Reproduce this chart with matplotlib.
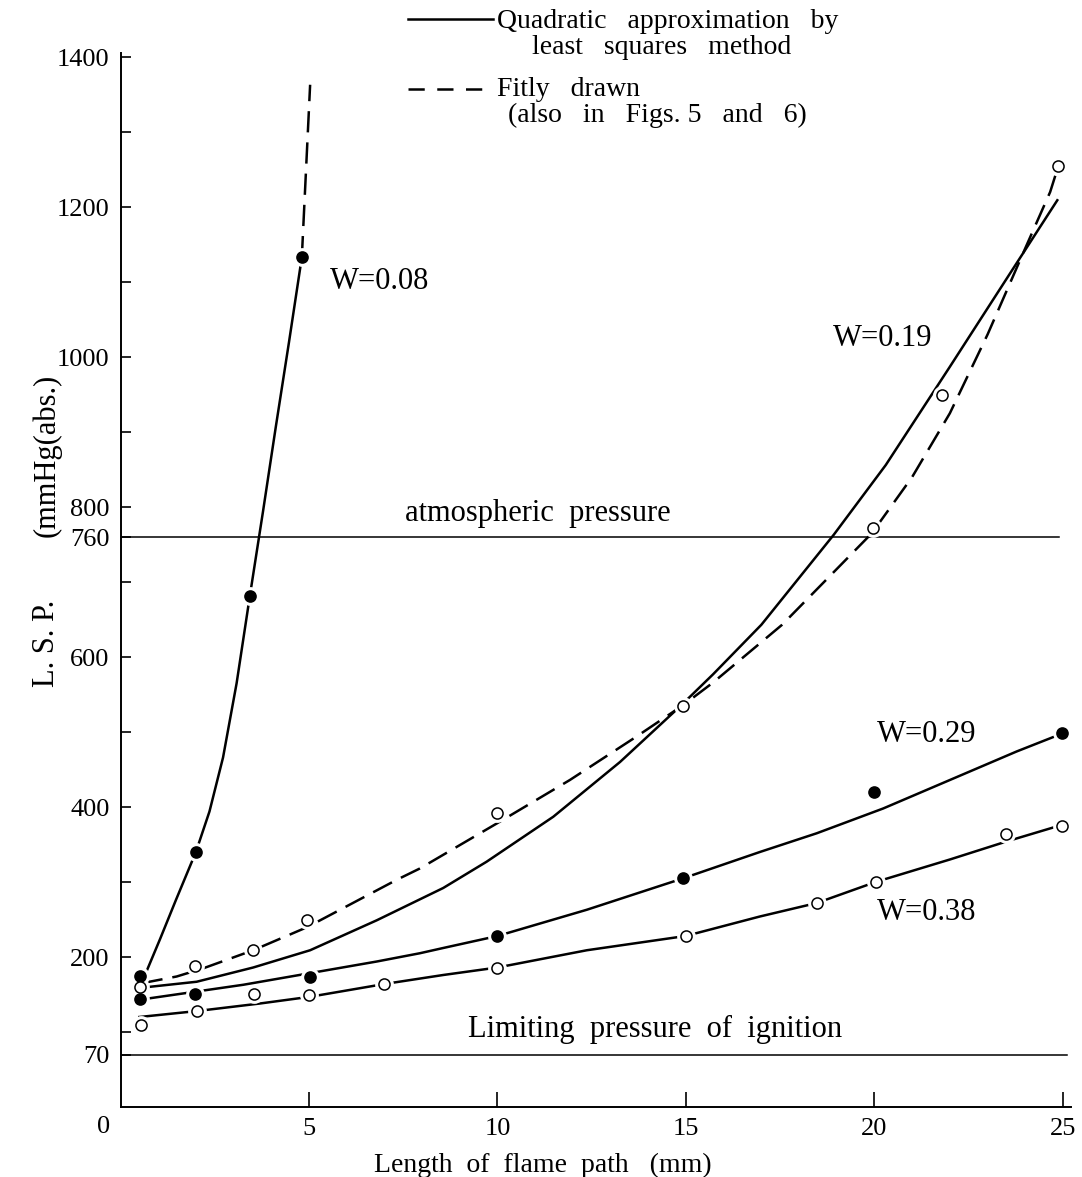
import numpy as np
import matplotlib.pyplot as plt
from matplotlib.lines import Line2D

# measured points, length of flame path (mm) vs L.S.P. (mmHg abs.)
x_w008 = [0.53, 1.99, 3.43, 4.82]
y_w008 = [175, 340, 682, 1134]
x_w019 = [0.53, 1.98, 3.52, 4.96, 10.0, 14.93, 19.95, 21.8, 24.88]
y_w019 = [160, 188, 210, 249, 392, 535, 772, 949, 1255]
x_w029 = [0.52, 1.98, 5.03, 10.0, 14.93, 20.0, 24.97]
y_w029 = [144, 151, 174, 228, 305, 420, 499]
x_w038 = [0.54, 2.04, 3.54, 4.99, 6.99, 10.0, 14.99, 18.47, 20.03, 23.5, 24.98]
y_w038 = [109, 128, 151, 149, 164, 186, 228, 272, 300, 364, 375]

# curves
# W=0.08, quadratic approx (solid) and fitly drawn top part (dashed)
cx_w008 = [0.65, 1.05, 1.47, 2.0, 2.36, 2.72, 3.08, 3.43, 3.78, 4.12, 4.47, 4.81]
cy_w008 = [176, 224, 276, 340, 394, 466, 565, 681, 794, 907, 1020, 1133]
dx_w008 = [4.81, 5.03]
dy_w008 = [1133, 1363]
# W=0.19
cx_w019 = [0.73, 2.02, 3.52, 5.03, 6.8, 8.56, 9.71, 11.48, 13.25, 14.84, 15.72, 17.0,
           18.92, 20.3, 22.0, 23.77, 24.85]
cy_w019 = [160, 167, 186, 209, 249, 292, 327, 387, 460, 534, 577, 643,
           763, 856, 987, 1125, 1209]
dx_w019 = [0.56, 1.49, 2.2, 3.52, 4.96, 7.33, 7.94, 9.98, 11.92, 13.69, 14.93, 15.72,
           17.55, 19.93, 21.0, 22.0, 23.0, 24.0, 24.66, 24.88]
dy_w019 = [165, 174, 185, 209, 240, 303, 318, 378, 436, 494, 536, 566,
           643, 765, 840, 925, 1030, 1145, 1220, 1255]
# W=0.29
cx_w029 = [0.78, 3.26, 6.8, 7.94, 8.56, 10.0, 12.37, 14.93, 16.96, 18.47, 20.23, 22.0, 23.77, 24.83]
cy_w029 = [145, 163, 194, 205, 212, 228, 263, 305, 340, 365, 398, 436, 474, 495]
# W=0.38
cx_w038 = [0.5, 2.04, 3.7, 5.03, 7.0, 8.56, 10.0, 12.37, 14.99, 16.96, 18.47, 20.03, 22.0, 23.5, 24.83]
cy_w038 = [120, 128, 138, 147, 164, 176, 186, 209, 228, 254, 272, 300, 330, 354, 374]

atm_pressure = 760
limit_pressure = 70

xtick_vals = [5, 10, 15, 20, 25]
ytick_vals = [70, 100, 200, 300, 400, 500, 600, 700, 760, 800, 900, 1000, 1100, 1200, 1300, 1400]
ytick_labels = ['70', '', '200', '', '400', '', '600', '', '760', '800', '', '1000', '', '1200', '', '1400']

plt.rcParams['font.family'] = ['Liberation Serif', 'DejaVu Serif']

W, H = 1082, 1177
def fx(px):
    return px / W
def fy(py):
    return 1 - py / H

fig = plt.figure(figsize=(10.82, 11.77), dpi=100)
ax = fig.add_axes([fx(120.5), 70 / H, (1070.5 - 120.5) / W, (1107 - 53.25) / H])
ax.set_xlim(0, 25.2)
ax.set_ylim(0, 1405)

lw = 1.8
dash = (8.5, 4)

# reference lines
ax.plot([0, 24.9], [atm_pressure, atm_pressure], color='black', lw=1.1, zorder=1)
ax.plot([0, 25.1], [limit_pressure, limit_pressure], color='black', lw=1.1, zorder=1)

# curves
ax.plot(cx_w008, cy_w008, color='black', lw=lw, zorder=2)
ax.plot(dx_w008, dy_w008, color='black', lw=lw, dashes=dash, zorder=2)
ax.plot(cx_w019, cy_w019, color='black', lw=lw, zorder=2)
ax.plot(dx_w019, dy_w019, color='black', lw=lw, dashes=dash, zorder=2)
ax.plot(cx_w029, cy_w029, color='black', lw=lw, zorder=2)
ax.plot(cx_w038, cy_w038, color='black', lw=lw, zorder=2)

# markers with a white halo so the lines break around them
for xs, ys, filled in [(x_w008, y_w008, True), (x_w019, y_w019, False),
                       (x_w029, y_w029, True), (x_w038, y_w038, False)]:
    ax.plot(xs, ys, 'o', ms=12.5, color='white', mec='white', zorder=3, clip_on=False)
    ax.plot(xs, ys, 'o', ms=8, mfc='black' if filled else 'white', mec='black',
            mew=1.1, zorder=4, clip_on=False)

# annotations
ax.text(5.56, 1101, 'W=0.08', fontsize=22, va='center', ha='left')
ax.text(18.9, 1025, 'W=0.19', fontsize=22, va='center', ha='left')
ax.text(20.07, 496, 'W=0.29', fontsize=22, va='center', ha='left')
ax.text(20.07, 260, 'W=0.38', fontsize=22, va='center', ha='left')
ax.text(7.55, 791, 'atmospheric  pressure', fontsize=22, va='center', ha='left')
ax.text(9.22, 104, 'Limiting  pressure  of  ignition', fontsize=22, va='center', ha='left')

# axes styling
for s in ['top', 'right']:
    ax.spines[s].set_visible(False)
for s in ['left', 'bottom']:
    ax.spines[s].set_linewidth(1.4)
ax.set_xticks(xtick_vals)
ax.set_xticklabels([str(v) for v in xtick_vals])
ax.set_yticks(ytick_vals)
ax.set_yticklabels(ytick_labels)
ax.tick_params(axis='x', direction='in', length=11, width=1.2, labelsize=19, pad=8)
ax.tick_params(axis='y', direction='in', length=7, width=1.2, labelsize=19, pad=8)
ax.text(-0.46, -27, '0', fontsize=19, ha='center', va='center', clip_on=False)

# axis titles
fig.text(fx(543), fy(1165), 'Length  of  flame  path   (mm)', fontsize=20, ha='center', va='center')
fig.text(fx(47), fy(643), 'L. S. P.', fontsize=22, rotation=90, ha='center', va='center')
fig.text(fx(47), fy(455), '(mmHg(abs.)', fontsize=22, rotation=90, ha='center', va='center')

# legend drawn by hand at the top
fig.add_artist(Line2D([fx(408), fx(493)], [fy(19), fy(19)], color='black', lw=lw))
fig.add_artist(Line2D([fx(408), fx(493)], [fy(89), fy(89)], color='black', lw=lw, dashes=(6.5, 5)))
fig.text(fx(497), fy(21), 'Quadratic   approximation   by', fontsize=20, ha='left', va='center')
fig.text(fx(532), fy(47), 'least   squares   method', fontsize=20, ha='left', va='center')
fig.text(fx(497), fy(89), 'Fitly   drawn', fontsize=20, ha='left', va='center')
fig.text(fx(508), fy(115), '(also   in   Figs. 5   and   6)', fontsize=20, ha='left', va='center')

fig.savefig('out.png', dpi=100)
